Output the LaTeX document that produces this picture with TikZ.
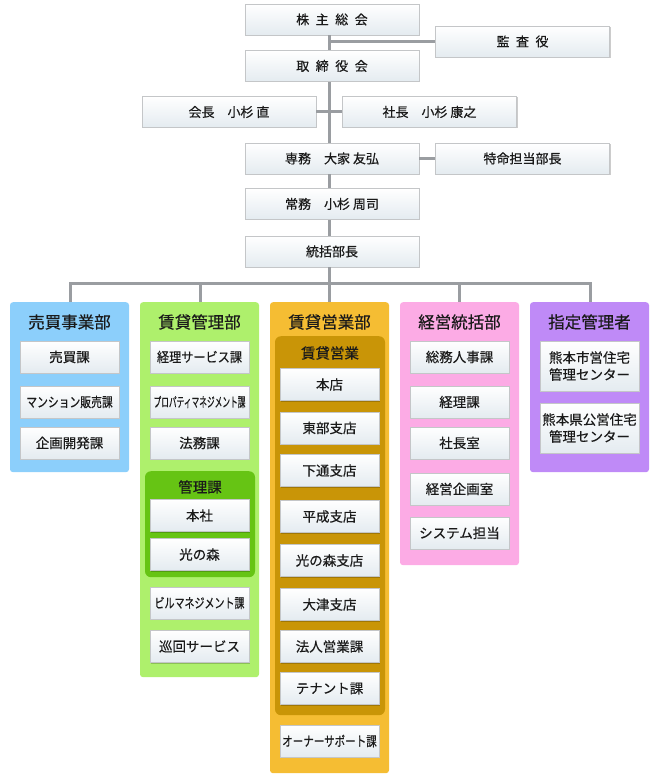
\documentclass[tikz,border=0pt]{standalone}
\usepackage{graphicx}
\usepackage{fontspec}
\setmainfont{Noto Sans CJK JP}[FakeBold=0.5]
\usetikzlibrary{shadows}
\definecolor{cblue}{HTML}{8CCFFB}
\definecolor{cgreen}{HTML}{AEF06C}
\definecolor{cdgreen}{HTML}{66C414}
\definecolor{corange}{HTML}{F5BD33}
\definecolor{cdorange}{HTML}{C99507}
\definecolor{cpink}{HTML}{FCABE5}
\definecolor{cpurple}{HTML}{BF8AF7}
\definecolor{cline}{HTML}{9A9DA1}
\definecolor{cbord}{HTML}{C4C6C8}
\definecolor{cbot}{HTML}{E4EBF0}
\definecolor{ctext}{HTML}{1A1A1A}
\newcommand{\gap}{\hspace{0.5em}}
\newcommand{\nx}[2]{\scalebox{#1}[1]{#2}}
\tikzset{
  wbox/.style={rectangle, draw=cbord, line width=0.8pt, top color=white, bottom color=cbot,
    minimum width=99pt, minimum height=32pt, inner sep=0pt, text=ctext,
    font=\fontsize{13.5}{15}\selectfont,
    drop shadow={shadow xshift=1pt, shadow yshift=-1pt, fill=black, opacity=0.2}},
  topbox/.style={wbox, minimum width=174pt, minimum height=31pt, font=\fontsize{13}{15}\selectfont},
  dept/.style={rectangle, rounded corners=3pt, minimum width=119pt, inner sep=0pt, anchor=north},
  grp/.style={rectangle, rounded corners=6pt, minimum width=110pt, inner sep=0pt, anchor=north},
  dtitle/.style={inner sep=0pt, text=ctext, font=\fontsize{16.5}{18}\selectfont},
  gtitle/.style={inner sep=0pt, text=ctext, font=\fontsize{14.5}{16}\selectfont},
  conn/.style={draw=cline, line width=3pt},
  tallbox/.style={wbox, minimum height=50pt, align=center, font=\fontsize{13.5}{17}\selectfont}
}
\begin{document}
\begin{tikzpicture}[x=1pt,y=-1pt]
\useasboundingbox (0,0) rectangle (660,775);
% top chain
\node[topbox] (kabu) at (332,19.5) {株\gap 主\gap 総\gap 会};
\node[topbox] (kansa) at (522.5,41.5) {監\gap 査\gap 役};
\node[topbox] (tori) at (332,66) {取\gap 締\gap 役\gap 会};
\node[topbox] (kaicho) at (229,112) {会長　小杉 直};
\node[topbox] (shacho) at (429.5,112) {社長　小杉 康之};
\node[topbox] (senmu) at (332,158.5) {専務　大家 友弘};
\node[topbox] (tokumei) at (522.5,158.5) {特命担当部長};
\node[topbox] (jomu) at (332,204) {常務　小杉 周司};
\node[topbox] (tokatsu) at (332,251.5) {統括部長};
\coordinate (tx) at (329,0);
\coordinate (b1) at (70,283);
\coordinate (b2) at (200,283);
\coordinate (b3) at (329,283);
\coordinate (b4) at (459,283);
\coordinate (b5) at (590,283);
% departments
\node[dept, fill=cblue, minimum height=170pt] (d1) at (69.5,302) {};
\node[dept, fill=cgreen, minimum height=375pt] (d2) at (199.5,302) {};
\node[dept, fill=corange, minimum height=471pt] (d3) at (329.5,302) {};
\node[dept, fill=cpink, minimum height=263pt] (d4) at (459.5,302) {};
\node[dept, fill=cpurple, minimum height=170pt] (d5) at (589.5,302) {};
\node[dtitle] (t1) at (69.5,322) {売買事業部};
\node[dtitle] (t2) at (199.5,322) {賃貸管理部};
\node[dtitle] (t3) at (329.5,322) {賃貸営業部};
\node[dtitle] (t4) at (459.5,322) {経営統括部};
\node[dtitle] (t5) at (589.5,322) {指定管理者};
% connectors
\draw[conn] (kabu.south -| tx) -- (tori.north -| tx);
\draw[conn] (tx |- kansa.west) -- (kansa.west);
\draw[conn] (tori.south -| tx) -- (senmu.north -| tx);
\draw[conn] (kaicho.east) -- (shacho.west);
\draw[conn] (senmu.east) -- (tokumei.west);
\draw[conn] (senmu.south -| tx) -- (jomu.north -| tx);
\draw[conn] (jomu.south -| tx) -- (tokatsu.north -| tx);
\draw[conn] (tokatsu.south -| tx) -- (b3);
\draw[conn] (d1.north -| b1) -- (b1) -- (b5) -- (d5.north -| b5);
\draw[conn] (b2) -- (d2.north -| b2);
\draw[conn] (b3) -- (d3.north -| b3);
\draw[conn] (b4) -- (d4.north -| b4);
% 売買事業部
\node[wbox] (u1) at (69.5,357) {売買課};
\node[wbox] (u2) at (69.5,402) {\nx{0.8}{マンション販売課}};
\node[wbox] (u3) at (69.5,443) {企画開発課};
% 賃貸管理部
\node[wbox] (k1) at (199.5,357) {\nx{0.9}{経理サービス課}};
\node[wbox] (k2) at (199.5,402) {\nx{0.57}{プロパティマネジメント課}};
\node[wbox] (k3) at (199.5,443) {法務課};
\node[grp, fill=cdgreen, minimum height=106pt] (kg) at (200,471) {};
\node[gtitle] (kgt) at (200,487) {管理課};
\node[wbox] (k4) at (199.5,515.5) {本社};
\node[wbox] (k5) at (199.5,554.5) {光の森};
\node[wbox] (k6) at (199.5,603) {\nx{0.74}{ビルマネジメント課}};
\node[wbox] (k7) at (199.5,646.5) {巡回サービス};
% 賃貸営業部
\node[grp, fill=cdorange, minimum height=379pt] (eg) at (330,336) {};
\node[gtitle] (egt) at (330,353) {賃貸営業};
\node[wbox] (e1) at (329.5,384.5) {本店};
\node[wbox] (e2) at (329.5,428) {東部支店};
\node[wbox] (e3) at (329.5,470.5) {下通支店};
\node[wbox] (e4) at (329.5,516.5) {平成支店};
\node[wbox] (e5) at (329.5,560.5) {光の森支店};
\node[wbox] (e6) at (329.5,604.5) {大津支店};
\node[wbox] (e7) at (329.5,646.5) {法人営業課};
\node[wbox] (e8) at (329.5,688.5) {テナント課};
\node[wbox] (e9) at (329.5,741) {\nx{0.78}{オーナーサポート課}};
% 経営統括部
\node[wbox] (g1) at (459.5,357) {総務人事課};
\node[wbox] (g2) at (459.5,402) {経理課};
\node[wbox] (g3) at (459.5,443) {社長室};
\node[wbox] (g4) at (459.5,489) {経営企画室};
\node[wbox] (g5) at (459.5,533) {システム担当};
% 指定管理者
\node[tallbox] (s1) at (589.5,366) {熊本市営住宅\\管理センター};
\node[tallbox] (s2) at (589.5,428) {熊本県公営住宅\\管理センター};
\end{tikzpicture}
\end{document}
